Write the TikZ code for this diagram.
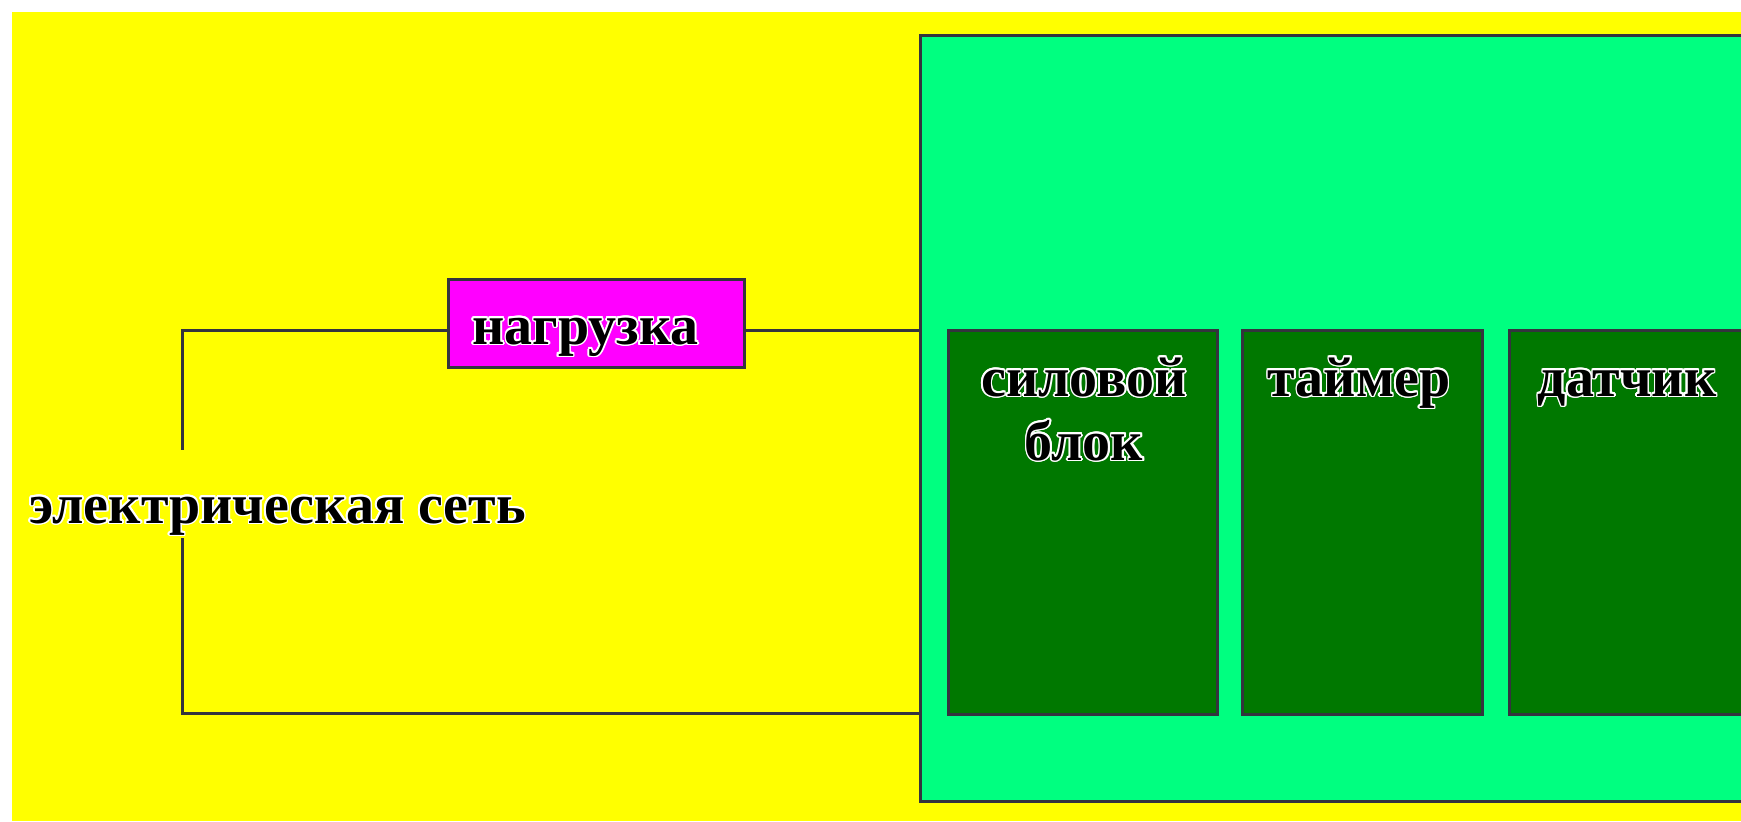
\documentclass[tikz,border=0pt]{standalone}
\usepackage{fontspec}
\setmainfont{Liberation Serif}
\usepackage{contour}
\contourlength{0.8pt}
\definecolor{bgyellow}{RGB}{255,255,0}
\definecolor{panelgreen}{RGB}{0,255,128}
\definecolor{blockgreen}{RGB}{0,120,0}
\definecolor{loadmagenta}{RGB}{255,0,255}
\definecolor{wirecol}{RGB}{52,52,62}
\newcommand\halo[1]{\contour{white}{#1}}
\tikzset{
  wire/.style={draw=wirecol, line width=1.5pt},
  boxbase/.style={draw=wirecol, line width=1.5pt, anchor=north west, inner sep=0pt},
  panelbox/.style={boxbase, fill=panelgreen},
  unitbox/.style={boxbase, fill=blockgreen, minimum height=192pt},
  loadbox/.style={boxbase, fill=loadmagenta, minimum width=148pt, minimum height=44pt},
  lbl/.style={inner sep=0pt, font=\fontsize{28}{32}\selectfont\bfseries, align=center}
}
\begin{document}
\begin{tikzpicture}[x=0.5pt, y=-0.5pt]
\useasboundingbox (0,0) rectangle (1741,821);
\clip (0,0) rectangle (1741,821);
% backdrop
\fill[bgyellow] (12,12) rectangle (1741,821);
% device housing and its units
\node[panelbox, minimum width=440pt, minimum height=383pt] (panel) at (919,34) {};
\node[unitbox, minimum width=134.5pt] (power) at (947,329) {};
\node[unitbox, minimum width=120pt] (timer) at (1241,329) {};
\node[unitbox, minimum width=140pt] (sensor) at (1508,329) {};
\node[lbl, anchor=base] (powerlbl) at (1084,460) {\halo{силовой}\\\halo{блок}};
\node[lbl, anchor=base] (timerlbl) at (1359,396) {\halo{таймер}};
\node[lbl, anchor=base] (sensorlbl) at (1627,396) {\halo{датчик}};
% load
\node[loadbox] (load) at (447,278) {};
\node[lbl, anchor=base west] (loadlbl) at (472,344) {\halo{нагрузка}};
% mains
\node[lbl, anchor=base west, text height=36.5pt, text depth=7.5pt] (net) at (29,523) {\halo{электрическая сеть}};
\coordinate (tl) at (182,330);
\coordinate (bl) at (182,713);
% wiring
\draw[wire] (tl |- net.north) -- (tl) -- (load.west |- tl);
\draw[wire] (load.east |- tl) -- (panel.west |- tl);
\draw[wire] (tl |- net.south) -- (bl) -- (panel.west |- bl);
\end{tikzpicture}
\end{document}
